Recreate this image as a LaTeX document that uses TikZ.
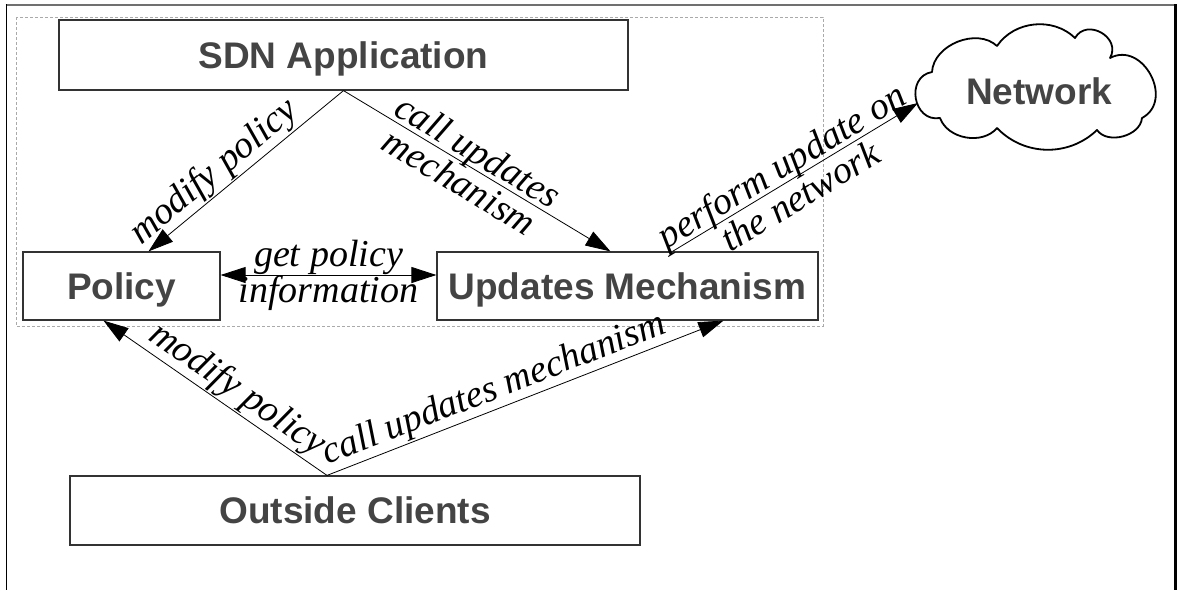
\documentclass[tikz,border=0pt]{standalone}
\usepackage{fontspec}
\setmainfont{Liberation Serif}
\setsansfont{Liberation Sans}
\usetikzlibrary{arrows.meta,calc}
\definecolor{boxtext}{HTML}{444444}
\definecolor{boxline}{HTML}{333333}
\definecolor{frametop}{HTML}{707070}
\definecolor{groupline}{HTML}{AAAAAA}
\begin{document}
\begin{tikzpicture}[x=1pt,y=-1pt,
  box/.style={draw=boxline,line width=1.2pt,text=boxtext,
    font=\sffamily\bfseries\fontsize{37}{40}\selectfont,
    inner sep=0pt,text height=26.5pt,text depth=0pt},
  conn/.style={line width=0.8pt,-{Triangle[length=25pt,width=16pt]}},
  lbl/.style={font=\itshape\fontsize{38}{36}\selectfont,inner sep=1pt,sloped},
  puff/.style={bend left=#1}
]
\useasboundingbox (0,0) rectangle (1178,590);

% page frame (open at the bottom)
\draw[line width=2pt,frametop] (5.5,4.5) -- (1176,4.5);
\draw[line width=1.5pt] (6.5,4) -- (6.5,590);
\draw[line width=2.5pt] (1175.5,4) -- (1175.5,590);

% controller group
\draw[groupline,line width=0.8pt,dash pattern=on 3pt off 2pt] (16,17) rectangle (823,326);

% components
\node[box,minimum width=569pt,minimum height=70pt] (sdn) at (343.5,55) {SDN Application};
\node[box,minimum width=197pt,minimum height=68pt] (policy) at (121.5,286) {Policy};
\node[box,minimum width=381pt,minimum height=68pt] (um) at (627.5,286) {Updates Mechanism};
\node[box,minimum width=570pt,minimum height=69pt] (oc) at (355,510.5) {Outside Clients};

% network cloud
\draw[line width=1.8pt,line join=round]
  (932,72) to[bend left=65] (997,46)
  to[bend left=50] (1075,38)
  to[bend left=90,looseness=1.5] (1110,58)
  to[bend left=90,looseness=1.4] (1142,118)
  to[bend left=70] (1097,130)
  to[bend left=45] (997,128)
  to[bend left=60] (940,118)
  to[bend left=90,looseness=1.5] cycle;
\node[box,draw=none] (net) at (1039,91) {Network};
\coordinate (netin) at (918,103);

% connectors
\draw[conn] (sdn.south) -- ([xshift=27pt]policy.north)
  node[lbl,above,pos=0.6] {modify policy};
\draw[conn] (sdn.south) -- ([xshift=-17pt]um.north)
  node[lbl,pos=0.47,align=center] {call updates\\mechanism};
\draw[line width=0.8pt,{Triangle[length=25pt,width=16pt]}-{Triangle[length=25pt,width=16pt]}]
  ([yshift=11pt]policy.east) -- ([yshift=11pt]um.west)
  node[lbl,pos=0.5,align=center] {get policy\\information};
\draw[conn] ([xshift=45pt]um.north) -- (netin)
  node[lbl,pos=0.48,align=center] {perform update on\\the network};
\draw[conn] ([xshift=-28pt]oc.north) -- ([xshift=-18pt]policy.south)
  node[lbl,above,pos=0.45] {modify policy};
\draw[conn] ([xshift=-28pt]oc.north) -- ([xshift=96pt]um.south)
  node[lbl,above,pos=0.44] {call updates mechanism};
\end{tikzpicture}
\end{document}
